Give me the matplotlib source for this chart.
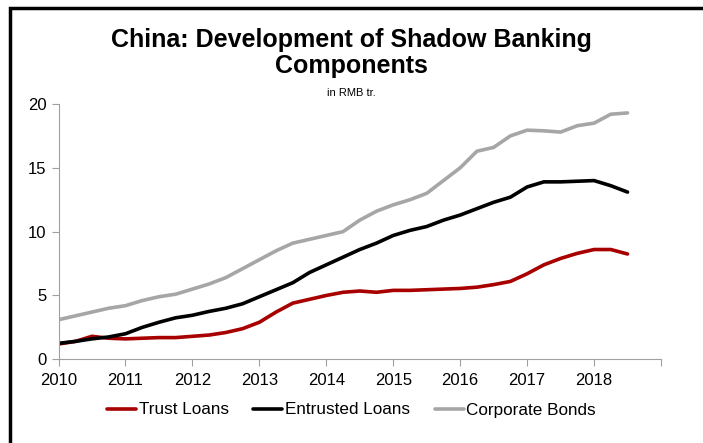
import numpy as np
import matplotlib
matplotlib.use('Agg')
import matplotlib.pyplot as plt
from matplotlib.patches import Rectangle

# quarterly readings, RMB tr.
quarters = np.arange(2010.0, 2018.51, 0.25)

trustLoans = [1.2, 1.4, 1.8, 1.65, 1.6, 1.65, 1.7, 1.7,
              1.8, 1.9, 2.1, 2.4, 2.9, 3.7, 4.4, 4.7,
              5.0, 5.25, 5.35, 5.25, 5.4, 5.4, 5.45, 5.5,
              5.55, 5.65, 5.85, 6.1, 6.7, 7.4, 7.9, 8.3,
              8.6, 8.6, 8.25]
entrustedLoans = [1.25, 1.4, 1.6, 1.75, 2.0, 2.5, 2.9, 3.25,
                  3.45, 3.75, 4.0, 4.35, 4.9, 5.45, 6.0, 6.8,
                  7.4, 8.0, 8.6, 9.1, 9.7, 10.1, 10.4, 10.9,
                  11.3, 11.8, 12.3, 12.7, 13.5, 13.9, 13.9, 13.95,
                  14.0, 13.6, 13.1]
corporateBonds = [3.1, 3.4, 3.7, 4.0, 4.2, 4.6, 4.9, 5.1,
                  5.5, 5.9, 6.4, 7.1, 7.8, 8.5, 9.1, 9.4,
                  9.7, 10.0, 10.9, 11.6, 12.1, 12.5, 13.0, 14.0,
                  15.0, 16.3, 16.6, 17.5, 17.95, 17.9, 17.8, 18.3,
                  18.5, 19.2, 19.3]

seriesNames = ['Trust Loans', 'Entrusted Loans', 'Corporate Bonds']
seriesColors = ['#A80000', '#000000', '#A6A6A6']
years = list(range(2010, 2020))
yearLabels = [str(y) for y in range(2010, 2019)] + ['']

plt.rcParams['font.family'] = ['Liberation Sans', 'DejaVu Sans']

fig = plt.figure(figsize=(7.03, 4.43), dpi=100)
ax = fig.add_axes([58.5/703, 1-359.3/443, (661-58.5)/703, (359.3-104)/443])

for vals, name, col in zip([trustLoans, entrustedLoans, corporateBonds], seriesNames, seriesColors):
    ax.plot(quarters, vals, color=col, lw=2.6, label=name, solid_capstyle='round')

ax.set_xlim(2010, 2019)
ax.set_ylim(0, 20)
ax.set_xticks(years)
ax.set_xticklabels(yearLabels)
ax.set_yticks([0, 5, 10, 15, 20])
for s in ['top', 'right']:
    ax.spines[s].set_visible(False)
for s in ['left', 'bottom']:
    ax.spines[s].set_color('#A0A0A0')
ax.tick_params(colors='#A0A0A0', labelcolor='black', labelsize=12, length=5)
ax.tick_params(axis='x', pad=5)

fig.text(0.5, 1-53/443, 'China: Development of Shadow Banking\nComponents',
         ha='center', va='center', fontsize=18, fontweight='bold', linespacing=1.1)
fig.text(0.5, 1-93/443, 'in RMB tr.', ha='center', va='center', fontsize=8)

fig.legend(loc='center', bbox_to_anchor=(0.5, 1-410/443), ncol=3, frameon=False,
           fontsize=12.3, handlelength=1.7, handletextpad=0.15, columnspacing=1.45)

# outer frame, cut off on right and bottom
fig.add_artist(Rectangle((9.5/703, -0.2), 1.2, 1.2 - 8/443, transform=fig.transFigure,
                         fill=False, edgecolor='black', lw=2.5, clip_on=False))

fig.savefig('out.png', dpi=100)
